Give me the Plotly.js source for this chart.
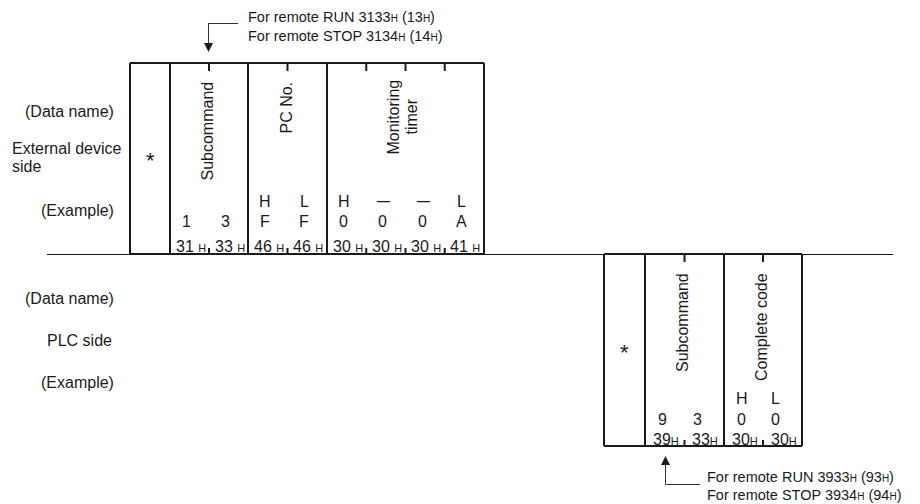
<!DOCTYPE html>
<html>
<head>
<meta charset="utf-8">
<script src="https://cdn.plot.ly/plotly-3.0.1.min.js"></script>
<style>html,body{margin:0;padding:0;background:#fff;}#chart{width:920px;height:504px;}</style>
</head>
<body>
<div id="chart"></div>
<script>
// ---------------- data ----------------
const upperRowLabels = ['(Data name)', 'External device<br>side', '(Example)'];
const lowerRowLabels = ['(Data name)', 'PLC side', '(Example)'];
const upperFields = ['Subcommand', 'PC No.', 'Monitoring<br>timer'];
const upperCellsPerField = [2, 2, 4];
const upperHL = ['', '', 'H', 'L', 'H', '—', '—', 'L'];
const upperChars = ['1', '3', 'F', 'F', '0', '0', '0', 'A'];
const upperHex = ['31', '33', '46', '46', '30', '30', '30', '41'];
const lowerFields = ['Subcommand', 'Complete code'];
const lowerCellsPerField = [2, 2];
const lowerHL = ['', '', 'H', 'L'];
const lowerChars = ['9', '3', '0', '0'];
const lowerHex = ['39', '33', '30', '30'];
const upperNoteModes = ['RUN', 'STOP'];
const upperNoteCodes = ['3133', '3134'];
const upperNoteShort = ['13', '14'];
const lowerNoteModes = ['RUN', 'STOP'];
const lowerNoteCodes = ['3933', '3934'];
const lowerNoteShort = ['93', '94'];
const headerMark = '*';

// ---------------- geometry / style ----------------
const FONT = '"Liberation Sans", Arial, Helvetica, sans-serif';
const FS = 16;
const NOTE_FS = 14.5;
const INK = '#1a1a1a';
const up = {xs: [130, 170, 248, 327, 484], top: 63, bot: 254, rowHL: 201, rowCh: 221, rowHex: 246, star: 160, labelTop: 80};
const lo = {xs: [604, 645, 724, 802], top: 254, bot: 446, rowHL: 398, rowCh: 419, rowHex: 439, star: 352, labelTop: 271};

const shapes = [];
const annotations = [];
function line(x0, y0, x1, y1, w, c) {
  shapes.push({type: 'line', xref: 'x', yref: 'y', x0, y0, x1, y1, line: {color: c || INK, width: w}});
}
function text(x, y, t, o) {
  annotations.push(Object.assign({x, y, xref: 'x', yref: 'y', text: t, showarrow: false,
    font: {family: FONT, size: FS, color: INK}, xanchor: 'center', yanchor: 'middle'}, o || {}));
}
const SUBH = '<span style="font-size:11px">H</span>';
const SUBH_NOTE = '<span style="font-size:10px">H</span>';
function hexLabel(v, gap) { return v + (gap ? ' ' : '') + SUBH; }

function frame(g, fields, cells, hl, chars, hex, gap, charShift) {
  const xs = g.xs;
  line(xs[0], g.top, xs[xs.length - 1], g.top, 2);
  line(xs[0], g.bot, xs[xs.length - 1], g.bot, 2);
  xs.forEach(x => line(x, g.top, x, g.bot, 2));
  text((xs[0] + xs[1]) / 2, g.star, headerMark, {font: {family: FONT, size: 22, color: INK}});
  let k = 0;
  fields.forEach((f, i) => {
    const a = xs[i + 1], b = xs[i + 2], n = cells[i], w = (b - a) / n;
    const parts = f.split('<br>');
    if (parts.length === 1) {
      text((a + b) / 2 - 2, g.labelTop, f, {textangle: -90, yanchor: 'top'});
    } else {
      const mid = (a + b) / 2 - 13;
      const centreY = g.labelTop + 37;
      parts.forEach((p, j) => text(mid + j * 18, centreY, p, {textangle: -90}));
    }
    for (let j = 1; j < n; j++) {
      const tx = a + j * w;
      line(tx, g.top, tx, g.top + 8, 2);
      line(tx, g.bot - 6, tx, g.bot, 2);
    }
    for (let j = 0; j < n; j++, k++) {
      const cx = a + (j + 0.5) * w;
      const sh = charShift[j % 2];
      if (hl[k]) {
        if (hl[k] === '—') text(cx - 2, g.rowHL - 1, '<b>—</b>', {font: {family: FONT, size: 13, color: INK}});
        else text(cx + sh, g.rowHL, hl[k]);
      }
      text(cx + sh, g.rowCh, chars[k]);
      text(cx + 1, g.rowHex, hexLabel(hex[k], gap));
    }
  });
}
frame(up, upperFields, upperCellsPerField, upperHL, upperChars, upperHex, true, [-3, -3]);
frame(lo, lowerFields, lowerCellsPerField, lowerHL, lowerChars, lowerHex, false, [-2, -7]);

// separator
line(47, 254.5, 893, 254.5, 1);

// row labels
text(116, 111, upperRowLabels[0], {xanchor: 'right'});
upperRowLabels[1].split('<br>').forEach((p, j) => text(10, 148 + j * 18, p, {xanchor: 'left'}));
text(116, 210, upperRowLabels[2], {xanchor: 'right'});
text(116, 298, lowerRowLabels[0], {xanchor: 'right'});
text(114, 340, lowerRowLabels[1], {xanchor: 'right'});
text(116, 382, lowerRowLabels[2], {xanchor: 'right'});

// notes with arrows
function note(modes, codes, shorts, x, y1, y2) {
  modes.forEach((m, i) => {
    const t = 'For remote ' + m + ' ' + codes[i] + SUBH_NOTE + ' (' + shorts[i] + SUBH_NOTE + ')';
    text(x, i === 0 ? y1 : y2, t, {xanchor: 'left', font: {family: FONT, size: NOTE_FS, color: INK}});
  });
}
const ARROW = '#333';
line(208, 23.5, 238, 23.5, 1, ARROW);
line(208.5, 23.5, 208.5, 44, 1, ARROW);
shapes.push({type: 'path', xref: 'x', yref: 'y', path: 'M 204 43 L 213 43 L 208.5 52 Z', fillcolor: INK, line: {width: 0}});
note(upperNoteModes, upperNoteCodes, upperNoteShort, 246, 17, 36);
line(665.5, 484.5, 700, 484.5, 1, ARROW);
line(665.5, 463, 665.5, 484.5, 1, ARROW);
shapes.push({type: 'path', xref: 'x', yref: 'y', path: 'M 661 465 L 670 465 L 665.5 456 Z', fillcolor: INK, line: {width: 0}});
note(lowerNoteModes, lowerNoteCodes, lowerNoteShort, 705, 477, 495);

Plotly.newPlot('chart', [{x: [], y: [], type: 'scatter', mode: 'lines', hoverinfo: 'skip', showlegend: false}], {
  width: 920, height: 504,
  margin: {l: 0, r: 0, t: 0, b: 0, pad: 0},
  paper_bgcolor: '#ffffff', plot_bgcolor: '#ffffff',
  xaxis: {range: [0, 920], visible: false, fixedrange: true},
  yaxis: {range: [504, 0], visible: false, fixedrange: true},
  showlegend: false,
  shapes, annotations
}, {displayModeBar: false, staticPlot: true});
</script>
</body>
</html>
